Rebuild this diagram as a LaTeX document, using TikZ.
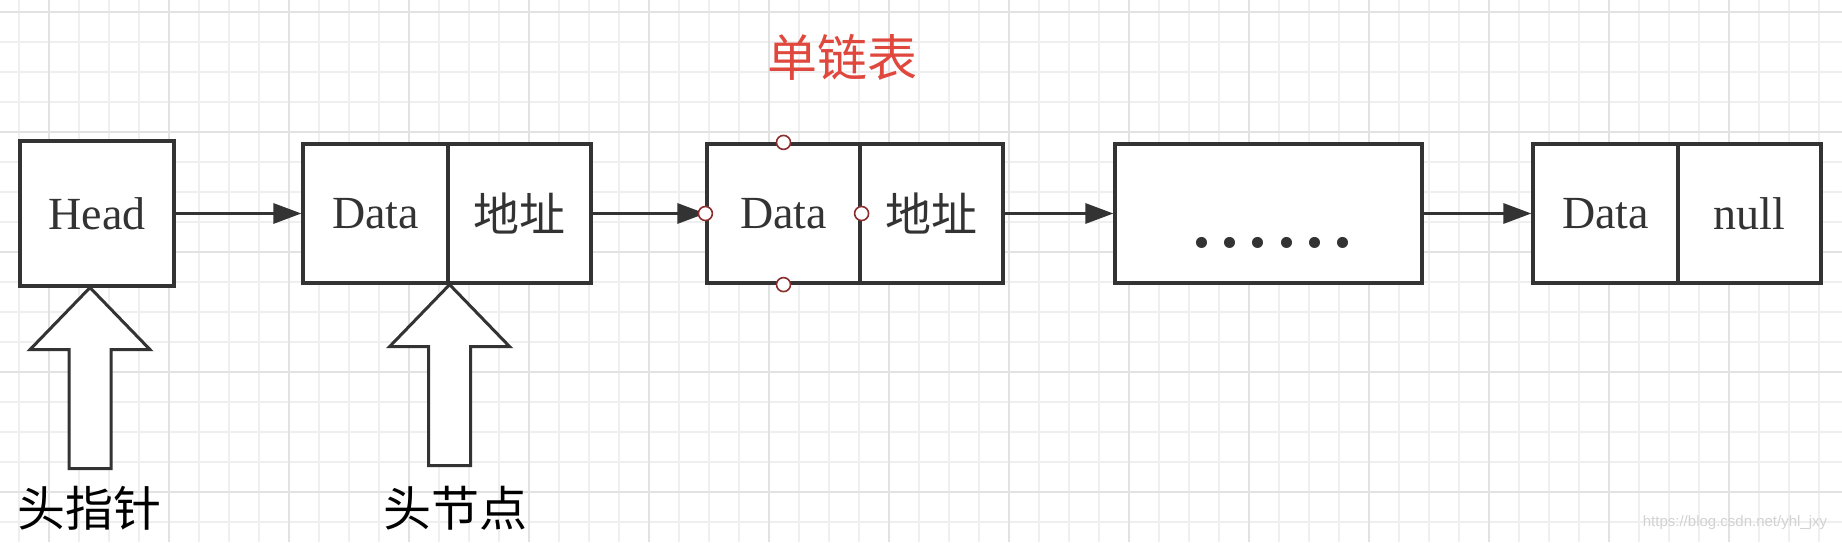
\documentclass[tikz,border=0pt]{standalone}
\usepackage{fontspec}
\setmainfont{Liberation Serif}
\newfontfamily\cjk{Noto Sans CJK SC}
\newfontfamily\wmfont{Liberation Sans}
\usetikzlibrary{arrows.meta}
\definecolor{ink}{HTML}{333333}
\definecolor{gridminor}{HTML}{EFEFEF}
\definecolor{gridmajor}{HTML}{E2E2E2}
\definecolor{titlered}{HTML}{E0473D}
\definecolor{handle}{HTML}{8B2E2E}
\begin{document}
\begin{tikzpicture}[x=0.5pt,y=-0.5pt,
  cell/.style={draw=ink, line width=1.6pt, fill=white, minimum height=69.5pt, inner sep=0pt,
    font=\fontsize{23}{27}\selectfont, text=ink},
  link/.style={draw=ink, line width=1.5pt, -{Triangle[length=14pt,width=10pt]}},
  handlecirc/.style={circle, draw=handle, fill=white, line width=0.8pt, minimum size=7pt, inner sep=0pt},
  blockarrow/.style={draw=ink, line width=1.5pt, fill=white, line join=miter},
  lbl/.style={inner sep=0pt, text=black, font=\fontsize{24}{28}\selectfont\cjk},
  uparrow/.pic={\draw[blockarrow] (0,0) -- (60,62) -- (21,62) -- (21,181) -- (-21,181) -- (-21,62) -- (-60,62) -- cycle;}
]
\useasboundingbox (0,0) rectangle (1842,542);
\fill[white] (0,0) rectangle (1842,542);
% grid
\foreach \gx in {19,49,...,1842} \draw[gridminor, line width=0.6pt] (\gx,0) -- (\gx,542);
\foreach \gy in {12,42,...,542} \draw[gridminor, line width=0.6pt] (0,\gy) -- (1842,\gy);
\foreach \gx in {49,169,...,1842} \draw[gridmajor, line width=0.8pt] (\gx,0) -- (\gx,542);
\foreach \gy in {12,132,...,542} \draw[gridmajor, line width=0.8pt] (0,\gy) -- (1842,\gy);

% title
\node[text=titlered, inner sep=0pt, font=\fontsize{25}{30}\selectfont\cjk] (title) at (842,57) {单链表};

% nodes
\node[cell, minimum width=77pt, minimum height=72.5pt] (head) at (97,213.5) {Head};
\node[cell, minimum width=72.5pt] (d1) at (375.5,213.5) {Data};
\node[cell, minimum width=71.5pt] (a1) at (519.5,213.5) {\cjk 地址};
\node[cell, minimum width=76.5pt] (d2) at (783.5,213.5) {Data};
\node[cell, minimum width=71.5pt] (a2) at (931.5,213.5) {\cjk 地址};
\node[cell, minimum width=153.5pt] (ell) at (1268.5,213.5) {};
\node[inner sep=0pt, text=ink, font=\fontsize{34}{38}\selectfont\bfseries] (dots) at (1272.5,243)
  {.\kern5.6pt.\kern5.6pt.\kern5.6pt.\kern5.6pt.\kern5.6pt.};
\node[cell, minimum width=72.5pt] (d3) at (1605.5,213.5) {Data};
\node[cell, minimum width=71.5pt] (n3) at (1749.5,213.5) {null};

% connectors
\draw[link] (head.east) -- (d1.west);
\draw[link] (a1.east) -- (d2.west);
\draw[link] (a2.east) -- (ell.west);
\draw[link] (ell.east) -- (d3.west);

% selection handles
\node[handlecirc] (hw) at (d2.west) {};
\node[handlecirc] (he) at (d2.east) {};
\node[handlecirc] (hn) at (d2.north) {};
\node[handlecirc] (hs) at (d2.south) {};

% block arrows
\pic at ([xshift=-3.5pt]head.south) {uparrow};
\pic at (d1.south east) {uparrow};

% labels
\node[lbl] (ptr) at (90,508) {头指针};
\node[lbl] (hnode) at (455,508) {头节点};

% watermark
\node[inner sep=0pt, text=gray!35, font=\fontsize{7.5}{9}\selectfont\wmfont] (wm) at (1735,523) {https://blog.csdn.net/yhl\_jxy};
\end{tikzpicture}
\end{document}
